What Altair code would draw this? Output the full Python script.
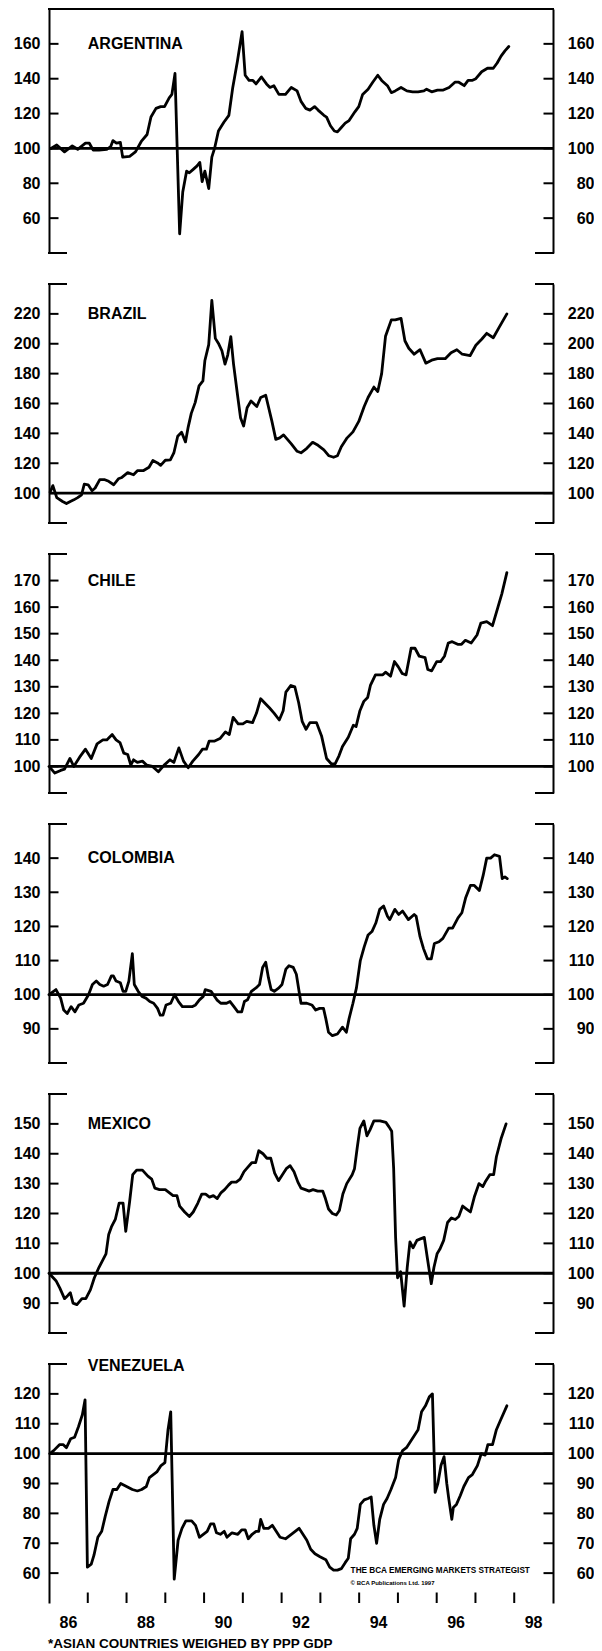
import altair as alt
import pandas as pd

# ---------------- data ----------------
ARG_YEARS = [1986.05, 1986.20, 1986.40, 1986.60, 1986.74, 1986.94, 1987.04, 1987.14, 1987.29, 1987.49,
             1987.59, 1987.65, 1987.74, 1987.84, 1987.90, 1988.08, 1988.23, 1988.38, 1988.53, 1988.63,
             1988.76, 1988.88, 1988.98, 1989.10, 1989.17, 1989.25, 1989.37, 1989.45, 1989.55, 1989.62,
             1989.72, 1989.82, 1989.89, 1989.95, 1990.02, 1990.12, 1990.20, 1990.27, 1990.37, 1990.51,
             1990.64, 1990.74, 1990.86, 1990.98, 1991.06, 1991.16, 1991.26, 1991.34, 1991.48, 1991.61,
             1991.70, 1991.80, 1991.93, 1992.10, 1992.25, 1992.40, 1992.50, 1992.62, 1992.73, 1992.85,
             1992.94, 1993.09, 1993.16, 1993.26, 1993.36, 1993.44, 1993.54, 1993.64, 1993.74, 1993.89,
             1993.99, 1994.09, 1994.23, 1994.35, 1994.48, 1994.58, 1994.73, 1994.83, 1994.93, 1995.08,
             1995.23, 1995.38, 1995.52, 1995.67, 1995.74, 1995.87, 1996.02, 1996.17, 1996.32, 1996.47,
             1996.57, 1996.71, 1996.81, 1996.91, 1997.01, 1997.16, 1997.31, 1997.46, 1997.56, 1997.66,
             1997.76, 1997.86]
ARG_VALUES = [100, 102, 98, 101.5, 99.5, 103, 103, 99, 99, 99.5,
              101, 104.5, 103, 103.5, 95, 95.5, 98, 104, 108, 118,
              123, 124, 124, 129, 131, 143, 51, 75, 87, 86,
              88, 90, 92, 81, 87, 77, 95, 100, 110, 115,
              119, 135, 150, 167, 142, 139, 139, 137, 141, 137,
              135, 136, 131, 131, 135, 133, 127, 123, 122, 124,
              122, 119, 118, 113, 110, 109.5, 112, 114.5, 116, 121,
              124, 131, 134, 138, 142, 139, 136, 132, 133, 135,
              133, 132.5, 132.5, 133, 134, 132.5, 133.5, 133.5, 135, 138,
              138, 136, 139, 139, 140, 144, 146, 146, 149, 153,
              156, 158.5]

BRA_YEARS = [1986.03, 1986.10, 1986.20, 1986.35, 1986.45, 1986.55, 1986.64, 1986.74, 1986.84, 1986.91,
             1987.01, 1987.11, 1987.19, 1987.31, 1987.44, 1987.54, 1987.67, 1987.79, 1987.88, 1988.03,
             1988.18, 1988.28, 1988.43, 1988.58, 1988.68, 1988.80, 1988.88, 1989.00, 1989.13, 1989.22,
             1989.32, 1989.42, 1989.52, 1989.59, 1989.67, 1989.77, 1989.87, 1989.97, 1990.02, 1990.12,
             1990.20, 1990.29, 1990.38, 1990.46, 1990.54, 1990.61, 1990.69, 1990.76, 1990.86, 1990.94,
             1991.02, 1991.11, 1991.21, 1991.36, 1991.46, 1991.59, 1991.75, 1991.85, 1991.95, 1992.05,
             1992.15, 1992.25, 1992.40, 1992.50, 1992.65, 1992.80, 1992.94, 1993.09, 1993.22, 1993.34,
             1993.44, 1993.54, 1993.69, 1993.84, 1993.99, 1994.13, 1994.23, 1994.38, 1994.48, 1994.58,
             1994.68, 1994.83, 1994.93, 1995.08, 1995.18, 1995.28, 1995.42, 1995.57, 1995.72, 1995.87,
             1996.02, 1996.22, 1996.37, 1996.52, 1996.66, 1996.86, 1997.01, 1997.16, 1997.29, 1997.46,
             1997.61, 1997.81]
BRA_VALUES = [100.7, 105, 97, 94.4, 93, 94.4, 95.5, 97, 98.9, 106,
              105.6, 101.6, 103.4, 109, 109, 107.9, 105.6, 109.6, 110.5, 113.7,
              112.3, 115, 115, 117.3, 121.8, 120.2, 118.6, 122, 122.2, 126.9,
              138.1, 140.8, 134.3, 144.2, 153.4, 160.6, 171.8, 175.1, 188.6, 199.4,
              229, 203.6, 199.8, 195.3, 186.4, 192.4, 204.8, 186.4, 166.2, 150.5,
              144.9, 157.2, 161.7, 158, 164, 165.5, 148, 136, 137, 139,
              136, 133, 128, 127, 130, 134, 132, 129, 125, 124,
              125, 131, 137, 141, 148, 158, 164, 171, 168, 180,
              205, 216, 216, 217, 202, 197, 193, 196, 187, 189,
              190, 190, 194, 196, 193, 192, 199, 203, 207, 204,
              211, 220]

CHI_YEARS = [1986.00, 1986.15, 1986.30, 1986.40, 1986.54, 1986.64, 1986.79, 1986.94, 1987.09, 1987.24,
             1987.39, 1987.49, 1987.63, 1987.73, 1987.83, 1987.93, 1988.03, 1988.11, 1988.18, 1988.28,
             1988.41, 1988.52, 1988.67, 1988.82, 1988.97, 1989.12, 1989.22, 1989.35, 1989.47, 1989.59,
             1989.71, 1989.86, 1989.96, 1990.06, 1990.13, 1990.26, 1990.41, 1990.55, 1990.65, 1990.75,
             1990.88, 1991.00, 1991.10, 1991.25, 1991.35, 1991.46, 1991.59, 1991.69, 1991.81, 1991.94,
             1992.04, 1992.11, 1992.24, 1992.34, 1992.44, 1992.53, 1992.63, 1992.73, 1992.90, 1993.03,
             1993.16, 1993.28, 1993.38, 1993.48, 1993.57, 1993.72, 1993.85, 1993.92, 1994.02, 1994.12,
             1994.22, 1994.29, 1994.42, 1994.51, 1994.61, 1994.68, 1994.81, 1994.91, 1995.01, 1995.11,
             1995.21, 1995.34, 1995.44, 1995.55, 1995.70, 1995.77, 1995.87, 1996.00, 1996.10, 1996.20,
             1996.30, 1996.40, 1996.54, 1996.64, 1996.74, 1996.89, 1997.04, 1997.14, 1997.29, 1997.44,
             1997.58, 1997.68, 1997.81]
CHI_VALUES = [100, 97.5, 98.5, 99, 103, 100, 103.5, 106.5, 103, 108.5,
              110, 110, 112, 110, 109, 105, 104.5, 100.5, 102.5, 101.5,
              102, 100.5, 100, 98, 100.5, 102.5, 101.5, 107, 102, 99.5,
              102, 104.5, 106.5, 106.5, 109.5, 109.5, 110.5, 113, 112, 118.5,
              116, 116, 117, 116.5, 120, 125.5, 123.5, 122, 120, 117.5,
              121, 128, 130.5, 130, 124, 117, 114, 116.5, 116.5, 111.5,
              103, 101, 101, 104, 107.5, 111, 115.5, 115, 121, 124.5,
              126, 130.5, 134.5, 134.5, 134.5, 135.5, 134, 139.5, 137.5, 135,
              134.5, 144.5, 144.5, 141.5, 141, 136.5, 136, 139.5, 139.5, 141.5,
              146.5, 147, 146, 146, 147.5, 146.5, 149.5, 154, 154.5, 153,
              160, 165, 173]

COL_YEARS = [1986.00, 1986.18, 1986.30, 1986.38, 1986.47, 1986.57, 1986.67, 1986.77, 1986.89, 1987.02,
             1987.12, 1987.22, 1987.31, 1987.41, 1987.51, 1987.61, 1987.66, 1987.73, 1987.84, 1987.91,
             1987.98, 1988.06, 1988.15, 1988.20, 1988.30, 1988.40, 1988.50, 1988.60, 1988.70, 1988.80,
             1988.87, 1988.94, 1989.02, 1989.14, 1989.24, 1989.34, 1989.44, 1989.54, 1989.69, 1989.78,
             1989.88, 1989.98, 1990.03, 1990.18, 1990.33, 1990.43, 1990.58, 1990.67, 1990.77, 1990.87,
             1990.97, 1991.04, 1991.12, 1991.22, 1991.34, 1991.43, 1991.51, 1991.59, 1991.66, 1991.73,
             1991.81, 1991.93, 1992.01, 1992.11, 1992.19, 1992.30, 1992.38, 1992.45, 1992.50, 1992.65,
             1992.78, 1992.88, 1992.98, 1993.08, 1993.14, 1993.21, 1993.31, 1993.44, 1993.57, 1993.67,
             1993.74, 1993.84, 1993.93, 1994.03, 1994.13, 1994.23, 1994.33, 1994.43, 1994.53, 1994.63,
             1994.73, 1994.79, 1994.92, 1995.02, 1995.12, 1995.27, 1995.42, 1995.47, 1995.57, 1995.66,
             1995.76, 1995.86, 1995.94, 1996.06, 1996.16, 1996.31, 1996.41, 1996.55, 1996.65, 1996.75,
             1996.87, 1996.97, 1997.10, 1997.20, 1997.29, 1997.39, 1997.49, 1997.62, 1997.69, 1997.76,
             1997.82]
COL_VALUES = [100, 101.5, 99, 95.5, 94.5, 96.5, 95, 97, 97.5, 100,
              103, 104, 103, 102.5, 103, 105.5, 105.5, 104, 103.5, 101,
              101, 104, 112, 103, 101, 99.5, 99, 98, 97.5, 96,
              94, 94, 97, 97.5, 100, 98, 96.5, 96.5, 96.5, 97,
              98.5, 99.5, 101.5, 101, 98.5, 97.5, 97.5, 98, 96.5, 95,
              95, 98, 98.5, 101, 102, 103, 108, 109.5, 105, 101.5,
              101, 102, 103, 107.5, 108.5, 108, 106, 101, 97.5, 97.5,
              97, 95.5, 96, 96, 93, 89, 88, 88.5, 90.5, 89,
              93, 97.5, 102, 110, 114, 117.5, 118.5, 121, 125, 126,
              123, 122, 125, 123.5, 124.5, 122, 123.5, 123, 117, 113.5,
              110.5, 110.5, 115, 115.5, 116.5, 119.5, 119.5, 122.5, 124, 128.5,
              132, 132, 130.5, 135, 140, 140, 141, 140.5, 134, 134.5,
              134]

MEX_YEARS = [1986.00, 1986.18, 1986.28, 1986.40, 1986.48, 1986.55, 1986.62, 1986.72, 1986.85, 1986.95,
             1987.07, 1987.17, 1987.29, 1987.39, 1987.47, 1987.54, 1987.61, 1987.71, 1987.81, 1987.91,
             1987.98, 1988.08, 1988.16, 1988.26, 1988.41, 1988.55, 1988.65, 1988.73, 1988.85, 1989.00,
             1989.10, 1989.20, 1989.30, 1989.37, 1989.50, 1989.62, 1989.72, 1989.84, 1989.94, 1990.04,
             1990.14, 1990.24, 1990.34, 1990.44, 1990.53, 1990.63, 1990.71, 1990.83, 1990.93, 1991.03,
             1991.13, 1991.23, 1991.33, 1991.41, 1991.52, 1991.62, 1991.72, 1991.82, 1991.92, 1992.02,
             1992.12, 1992.22, 1992.32, 1992.42, 1992.50, 1992.61, 1992.71, 1992.81, 1992.93, 1993.06,
             1993.13, 1993.21, 1993.31, 1993.41, 1993.49, 1993.58, 1993.68, 1993.82, 1993.88, 1993.95,
             1994.02, 1994.12, 1994.20, 1994.28, 1994.38, 1994.54, 1994.69, 1994.77, 1994.84, 1994.89,
             1994.94, 1994.99, 1995.07, 1995.16, 1995.24, 1995.31, 1995.39, 1995.49, 1995.58, 1995.68,
             1995.76, 1995.86, 1995.93, 1996.01, 1996.08, 1996.18, 1996.28, 1996.38, 1996.48, 1996.57,
             1996.67, 1996.77, 1996.87, 1996.97, 1997.09, 1997.19, 1997.27, 1997.37, 1997.47, 1997.54,
             1997.66, 1997.79]
MEX_VALUES = [100, 97.5, 95, 91.5, 92.5, 93.5, 90, 89.5, 91.5, 91.5,
              94.5, 98.5, 102, 104.5, 106.5, 113, 115.5, 118, 123.5, 123.5,
              114, 124, 133, 134.5, 134.5, 132.5, 131.5, 128.5, 128, 128,
              127, 126, 126, 122.5, 120.5, 119, 120.5, 123.5, 126.5, 126.5,
              125.5, 126, 125, 127, 128, 129.5, 130.5, 130.5, 131.5, 134,
              135.5, 137, 137, 141, 140, 138.5, 138.5, 133.5, 131, 133,
              135, 136, 134, 130.5, 128.5, 128, 127.5, 128, 127.5, 127.5,
              125, 121.5, 120, 119.5, 121, 126.5, 130, 133, 135, 142,
              148.5, 151, 146, 148, 151, 151, 150.5, 149, 147.5, 135,
              112, 98.5, 100.5, 89, 102, 110.5, 108.5, 111, 111.5, 112,
              105, 96.5, 102, 106.5, 108, 111, 117, 118.5, 118, 119,
              122.5, 121.5, 120.5, 125.5, 130, 129, 131, 133, 133, 139,
              145, 150]

VEN_YEARS = [1986.02, 1986.12, 1986.27, 1986.37, 1986.45, 1986.56, 1986.66, 1986.76, 1986.86, 1986.93,
             1986.99, 1987.09, 1987.16, 1987.26, 1987.36, 1987.45, 1987.55, 1987.65, 1987.75, 1987.85,
             1988.00, 1988.15, 1988.28, 1988.39, 1988.51, 1988.59, 1988.69, 1988.79, 1988.89, 1988.99,
             1989.07, 1989.14, 1989.23, 1989.33, 1989.43, 1989.53, 1989.68, 1989.78, 1989.88, 1989.98,
             1990.08, 1990.17, 1990.25, 1990.32, 1990.42, 1990.52, 1990.59, 1990.72, 1990.87, 1990.97,
             1991.06, 1991.14, 1991.24, 1991.34, 1991.41, 1991.46, 1991.54, 1991.66, 1991.76, 1991.86,
             1991.96, 1992.10, 1992.25, 1992.45, 1992.55, 1992.65, 1992.75, 1992.86, 1992.99, 1993.14,
             1993.24, 1993.34, 1993.44, 1993.54, 1993.64, 1993.72, 1993.78, 1993.88, 1993.95, 1994.03,
             1994.13, 1994.23, 1994.31, 1994.38, 1994.45, 1994.53, 1994.63, 1994.72, 1994.82, 1994.94,
             1995.02, 1995.12, 1995.22, 1995.32, 1995.42, 1995.52, 1995.61, 1995.71, 1995.81, 1995.89,
             1995.96, 1996.03, 1996.11, 1996.19, 1996.26, 1996.31, 1996.39, 1996.43, 1996.51, 1996.61,
             1996.70, 1996.82, 1996.92, 1997.05, 1997.15, 1997.25, 1997.32, 1997.44, 1997.54, 1997.64,
             1997.81]
VEN_VALUES = [100, 101, 103, 103, 102, 105, 105.5, 109, 113, 118,
              62, 63, 66, 72, 74, 79, 84, 88, 88, 90,
              89, 88, 87.5, 88, 89, 92, 93, 94, 96, 97,
              108, 114, 58, 71, 75, 77.5, 77.5, 76, 72, 73,
              74, 76.5, 76.5, 73.5, 73, 74, 72, 73.5, 73, 74.5,
              74.5, 71.5, 73, 74, 74, 78, 75, 75, 76, 74,
              72, 71.5, 73, 75, 73, 71, 68, 66.5, 65.5, 64.5,
              62, 61, 61, 61.5, 63.5, 65, 71.5, 73, 75, 83,
              84.5, 85, 85.5, 76, 70, 78, 83, 85, 88, 92,
              98, 101, 102, 104, 106, 108, 114, 116, 119, 120,
              87, 90, 96, 99, 90, 85, 78, 82, 83, 86,
              89, 92, 93, 96, 100, 99.5, 103, 103, 108, 111,
              116]

COUNTRIES = ["ARGENTINA", "BRAZIL", "CHILE", "COLOMBIA", "MEXICO", "VENEZUELA"]
Y_DOMAINS = [[40, 180], [80, 240], [90, 180], [80, 150], [80, 160], [50, 130]]
Y_TICKS = [[60, 80, 100, 120, 140, 160],
           [100, 120, 140, 160, 180, 200, 220],
           [100, 110, 120, 130, 140, 150, 160, 170],
           [90, 100, 110, 120, 130, 140],
           [90, 100, 110, 120, 130, 140, 150],
           [60, 70, 80, 90, 100, 110, 120]]
TITLE_VALUES = [160, 220, 170, 140, 150, 129.3]
SERIES = [(ARG_YEARS, ARG_VALUES), (BRA_YEARS, BRA_VALUES), (CHI_YEARS, CHI_VALUES),
          (COL_YEARS, COL_VALUES), (MEX_YEARS, MEX_VALUES), (VEN_YEARS, VEN_VALUES)]
PANEL_HEIGHTS = [244, 239, 239, 239, 239, 239]

X_DOMAIN = [1986, 1999]
YEAR_TICKS = [1987, 1988, 1989, 1990, 1991, 1992, 1993, 1994, 1995, 1996, 1997, 1998]
YEAR_LABEL_POS = [1986.5, 1988.5, 1990.5, 1992.5, 1994.5, 1996.5, 1998.5]
YEAR_LABELS = ["86", "88", "90", "92", "94", "96", "98"]
TITLE_YEAR = 1987.0
BASELINE = 100

CREDIT_1 = "THE BCA EMERGING MARKETS STRATEGIST"
CREDIT_2 = "\u00a9 BCA Publications Ltd. 1997"
CREDIT_POS = [(1993.78, 60.6), (1993.78, 56.6)]
FOOTNOTE = "*ASIAN COUNTRIES WEIGHED BY PPP GDP"

# ---------------- style ----------------
W = 504
FONT = "Liberation Sans"
INK = "#000000"
LW = 2.8
AXW = 2.0
TICK = 9.5
STUB = 18


def make_panel(i):
    H = PANEL_HEIGHTS[i]
    last = i == len(COUNTRIES) - 1
    lo, hi = Y_DOMAINS[i]
    xs = alt.Scale(domain=X_DOMAIN, nice=False, zero=False)
    ys = alt.Scale(domain=[lo, hi], nice=False, zero=False)

    if last:
        x_axis = alt.Axis(values=YEAR_TICKS, labels=False, ticks=False, tickSize=0, domain=True,
                          domainColor=INK, domainWidth=AXW, grid=False, title=None)
    else:
        x_axis = None

    years, values = SERIES[i]
    df = pd.DataFrame({"year": years, "value": values})

    left_axis = alt.Axis(orient="left", values=Y_TICKS[i], ticks=False, tickSize=0, domain=True,
                         domainColor=INK, domainWidth=AXW, grid=False, title=None,
                         labelFont=FONT, labelFontSize=16, labelFontWeight="bold",
                         labelColor=INK, labelPadding=9, labelFlush=False, labelOverlap=False)
    right_axis = alt.Axis(orient="right", values=Y_TICKS[i], ticks=False, tickSize=0, domain=True,
                          domainColor=INK, domainWidth=AXW, grid=False, title=None,
                          labelFont=FONT, labelFontSize=16, labelFontWeight="bold",
                          labelColor=INK, labelPadding=41, labelAlign="right",
                          labelFlush=False, labelOverlap=False)

    line = alt.Chart(df).mark_line(color=INK, strokeWidth=LW, strokeJoin="round",
                                   strokeCap="round").encode(
        x=alt.X("year:Q", scale=xs, axis=x_axis),
        y=alt.Y("value:Q", scale=ys, axis=left_axis),
    )

    base = alt.Chart(pd.DataFrame({"base": [BASELINE]})).mark_rule(
        color=INK, strokeWidth=LW).encode(y=alt.Y("base:Q", scale=ys, axis=None))

    tick_df = pd.DataFrame({"tick": Y_TICKS[i]})
    left_ticks = alt.Chart(tick_df).mark_rule(color=INK, strokeWidth=AXW).encode(
        y=alt.Y("tick:Q", scale=ys, axis=None), x=alt.value(0), x2=alt.value(TICK))
    right_ticks = alt.Chart(tick_df).mark_rule(color=INK, strokeWidth=AXW).encode(
        y=alt.Y("tick:Q", scale=ys, axis=right_axis), x=alt.value(W - TICK), x2=alt.value(W))

    edges = [hi] if last else [lo, hi]
    edge_df = pd.DataFrame({"edge": edges})
    stub_l = alt.Chart(edge_df).mark_rule(color=INK, strokeWidth=AXW).encode(
        y=alt.Y("edge:Q", scale=ys, axis=None), x=alt.value(-1), x2=alt.value(STUB))
    stub_r = alt.Chart(edge_df).mark_rule(color=INK, strokeWidth=AXW).encode(
        y=alt.Y("edge:Q", scale=ys, axis=None), x=alt.value(W - STUB), x2=alt.value(W + 1))

    title_df = pd.DataFrame({"x": [TITLE_YEAR], "y": [TITLE_VALUES[i]], "t": [COUNTRIES[i]]})
    title = alt.Chart(title_df).mark_text(align="left", baseline="middle", font=FONT,
                                          fontSize=16, fontWeight="bold", color=INK).encode(
        x=alt.X("x:Q", scale=xs, axis=None), y=alt.Y("y:Q", scale=ys, axis=None), text="t:N")

    layers = [base, line, left_ticks, right_ticks, stub_l, stub_r, title]

    if i == 0:
        top_df = pd.DataFrame({"edge": [hi]})
        top = alt.Chart(top_df).mark_rule(color=INK, strokeWidth=AXW).encode(
            y=alt.Y("edge:Q", scale=ys, axis=None), x=alt.value(-1), x2=alt.value(W + 1))
        layers.append(top)

    if last:
        yt = alt.Chart(pd.DataFrame({"yr": YEAR_TICKS})).mark_rule(
            color=INK, strokeWidth=AXW).encode(
            x=alt.X("yr:Q", scale=xs, axis=None), y=alt.value(H - 10.5), y2=alt.value(H))
        xl = alt.Chart(pd.DataFrame({"pos": YEAR_LABEL_POS, "lab": YEAR_LABELS})).mark_text(
            align="center", baseline="middle", font=FONT, fontSize=16, fontWeight="bold",
            color=INK).encode(x=alt.X("pos:Q", scale=xs, axis=None), y=alt.value(H + 19.5),
                              text="lab:N")
        credit_df = pd.DataFrame({"x": [p[0] for p in CREDIT_POS], "y": [p[1] for p in CREDIT_POS],
                                  "t": [CREDIT_1, CREDIT_2]})
        c1 = alt.Chart(credit_df.iloc[[0]]).mark_text(
            align="left", baseline="middle", font=FONT, fontSize=8.2, fontWeight="bold",
            color=INK).encode(x=alt.X("x:Q", scale=xs, axis=None),
                              y=alt.Y("y:Q", scale=ys, axis=None), text="t:N")
        c2 = alt.Chart(credit_df.iloc[[1]]).mark_text(
            align="left", baseline="middle", font=FONT, fontSize=6, fontWeight="bold",
            color=INK).encode(x=alt.X("x:Q", scale=xs, axis=None),
                              y=alt.Y("y:Q", scale=ys, axis=None), text="t:N")
        foot = alt.Chart(pd.DataFrame({"t": [FOOTNOTE]})).mark_text(
            align="left", baseline="middle", font=FONT, fontSize=13.5, fontWeight="bold",
            color=INK).encode(text="t:N", x=alt.value(-1), y=alt.value(H + 41))
        layers += [yt, xl, c1, c2, foot]

    return alt.layer(*layers).resolve_axis(y="independent").properties(width=W, height=H)


panels = [make_panel(i) for i in range(len(COUNTRIES))]

chart = alt.vconcat(*panels, spacing=31, bounds="flush").properties(
    padding={"left": 5, "top": 0, "right": 0, "bottom": 0}
).configure_view(stroke=None)

chart.save("out.html", embed_options={"renderer": "svg", "actions": False})
